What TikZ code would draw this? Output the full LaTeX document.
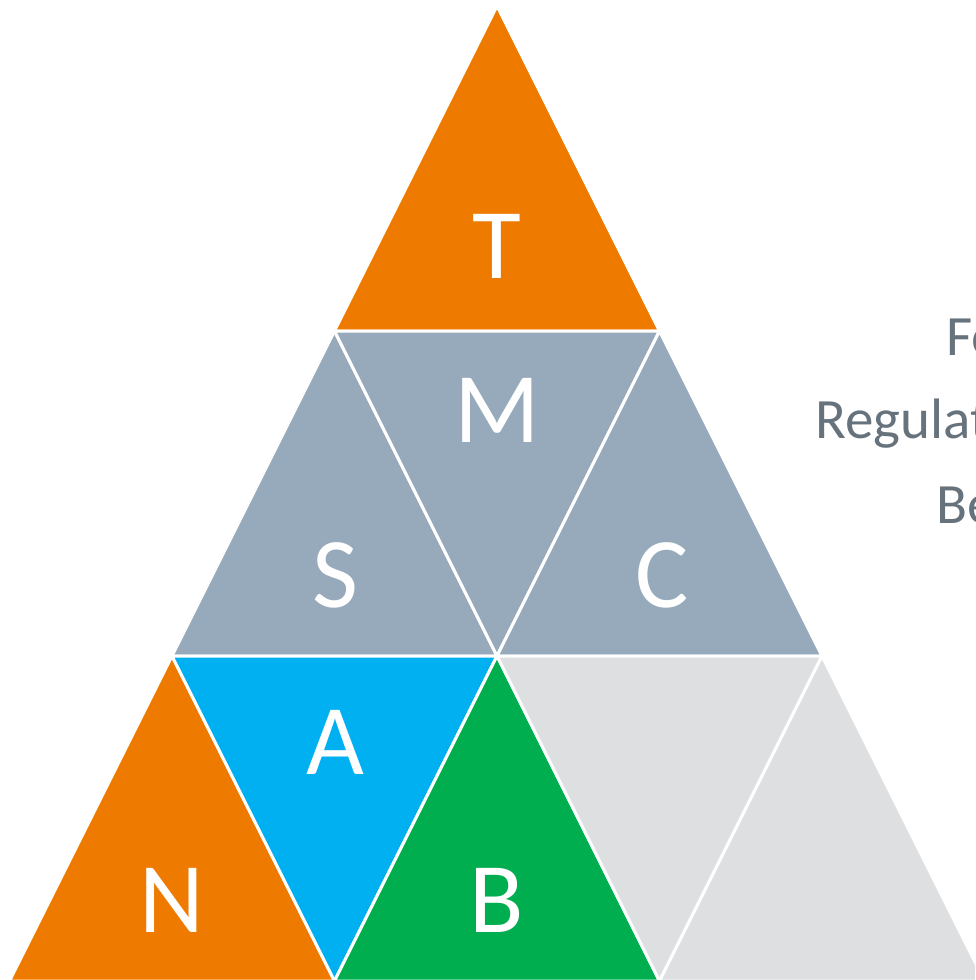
\documentclass[tikz,border=0pt]{standalone}
\usepackage{fontspec}
\setmainfont{Carlito}
\definecolor{torange}{HTML}{EE7A00}
\definecolor{tslate}{HTML}{97AABB}
\definecolor{tcyan}{HTML}{00B0F0}
\definecolor{tgreen}{HTML}{00AE50}
\definecolor{tlight}{HTML}{DEDFE1}
\definecolor{ttext}{HTML}{67737C}
\tikzset{
  tri/.style={draw=white, line width=3pt, line join=miter},
  bigletter/.style={text=white, font=\fontsize{100}{110}\selectfont, inner sep=0pt},
  sidetext/.style={text=ttext, font=\fontsize{57}{66}\selectfont, inner sep=0pt, anchor=base west}
}
\begin{document}
\begin{tikzpicture}[x=1pt,y=-1pt]
\useasboundingbox (0,0) rectangle (975,980);
\clip (0,0) rectangle (975,980);
% row 1
\path[tri, fill=torange] (497,6) -- (659.5,331) -- (334.5,331) -- cycle;
% row 2
\path[tri, fill=tslate] (334.5,331) -- (497,656) -- (172,656) -- cycle;
\path[tri, fill=tslate] (334.5,331) -- (659.5,331) -- (497,656) -- cycle;
\path[tri, fill=tslate] (659.5,331) -- (822,656) -- (497,656) -- cycle;
% row 3
\path[tri, fill=torange] (172,656) -- (334.5,981) -- (9.5,981) -- cycle;
\path[tri, fill=tcyan] (172,656) -- (497,656) -- (334.5,981) -- cycle;
\path[tri, fill=tgreen] (497,656) -- (659.5,981) -- (334.5,981) -- cycle;
\path[tri, fill=tlight] (497,656) -- (822,656) -- (659.5,981) -- cycle;
\path[tri, fill=tlight] (822,656) -- (984.5,981) -- (659.5,981) -- cycle;
% labels
\node[bigletter] (T) at (497,246) {T};
\node[bigletter] (M) at (497,410) {M};
\node[bigletter] (S) at (335,575) {S};
\node[bigletter] (C) at (662,575) {C};
\node[bigletter] (A) at (335,742) {A};
\node[bigletter] (N) at (172,900) {N};
\node[bigletter] (B) at (497,900) {B};
% side text (cut off at the right edge)
\node[sidetext] (t1) at (946,355) {For};
\node[sidetext] (t2) at (815,438) {Regulatory};
\node[sidetext] (t3) at (936,523) {Better};
\end{tikzpicture}
\end{document}
